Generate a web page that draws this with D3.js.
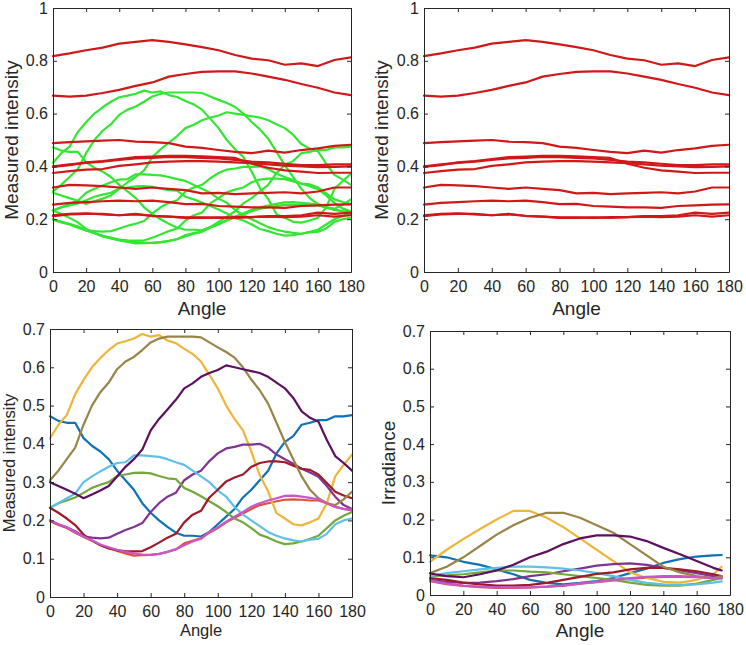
<!DOCTYPE html>
<html><head><meta charset="utf-8">
<script src="https://cdn.jsdelivr.net/npm/d3@7"></script>
<style>
body{margin:0;background:#fff;}
svg{display:block;font-family:"Liberation Sans",Arial,sans-serif;}
</style></head>
<body><svg id="chart" width="746" height="645"></svg>
<script>
// ---------- DATA ----------
const angles5 = [0,5,10,15,20,25,30,35,40,45,50,55,60,65,70,75,80,85,90,95,100,105,110,115,120,125,130,135,140,145,150,155,160,165,170,175,180];
const angles10 = [0,10,20,30,40,50,60,70,80,90,100,110,120,130,140,150,160,170,180];
const anglesIrr = [0,10,20,30,40,50,60,70,80,90,100,110,120,130,140,150,160,170,175];
const xTicks = [0,20,40,60,80,100,120,140,160,180];
const yTicksTop = [0,0.2,0.4,0.6,0.8,1];
const yTicksBottom = [0,0.1,0.2,0.3,0.4,0.5,0.6,0.7];

// Measured intensity, 10 sources (bottom-left; green lines top-left)
const mBlue      = [0.472,0.46,0.455,0.455,0.415,0.395,0.38,0.36,0.33,0.305,0.28,0.245,0.22,0.2,0.183,0.168,0.16,0.16,0.158,0.17,0.19,0.21,0.23,0.26,0.28,0.305,0.33,0.375,0.405,0.42,0.45,0.455,0.462,0.462,0.472,0.472,0.475];
const mOrange    = [0.198,0.188,0.18,0.168,0.157,0.147,0.136,0.128,0.12,0.114,0.108,0.109,0.11,0.113,0.118,0.124,0.14,0.147,0.153,0.168,0.18,0.195,0.207,0.218,0.23,0.24,0.245,0.25,0.254,0.255,0.254,0.252,0.252,0.245,0.236,0.23,0.226];
const mYellow    = [0.414,0.45,0.475,0.53,0.567,0.6,0.624,0.645,0.662,0.668,0.675,0.687,0.68,0.684,0.67,0.663,0.648,0.635,0.615,0.58,0.545,0.5,0.465,0.435,0.38,0.318,0.276,0.219,0.205,0.19,0.187,0.195,0.205,0.245,0.315,0.345,0.372];
const mPurple    = [0.2,0.19,0.182,0.172,0.158,0.155,0.153,0.155,0.165,0.175,0.183,0.193,0.222,0.245,0.262,0.272,0.305,0.32,0.33,0.355,0.375,0.388,0.392,0.398,0.398,0.4,0.39,0.372,0.36,0.348,0.335,0.325,0.314,0.29,0.262,0.24,0.23];
const mGreen     = [0.233,0.245,0.252,0.26,0.272,0.285,0.293,0.3,0.316,0.32,0.324,0.325,0.323,0.316,0.31,0.308,0.285,0.275,0.263,0.25,0.237,0.222,0.205,0.195,0.18,0.163,0.155,0.145,0.138,0.14,0.145,0.152,0.16,0.18,0.2,0.212,0.222];
const mLightBlue = [0.233,0.245,0.258,0.27,0.3,0.315,0.328,0.34,0.35,0.352,0.37,0.37,0.368,0.366,0.36,0.352,0.345,0.33,0.315,0.3,0.278,0.262,0.235,0.215,0.2,0.185,0.17,0.16,0.153,0.148,0.145,0.15,0.152,0.165,0.19,0.2,0.205];
const mDarkRed   = [0.233,0.22,0.205,0.188,0.163,0.148,0.135,0.127,0.122,0.12,0.119,0.12,0.13,0.142,0.155,0.165,0.195,0.215,0.225,0.26,0.28,0.302,0.312,0.32,0.34,0.35,0.354,0.354,0.352,0.343,0.335,0.332,0.32,0.298,0.275,0.265,0.258];
const mOlive     = [0.305,0.33,0.36,0.39,0.45,0.5,0.535,0.56,0.595,0.615,0.627,0.645,0.665,0.675,0.68,0.68,0.68,0.68,0.678,0.665,0.652,0.64,0.625,0.6,0.568,0.54,0.505,0.455,0.405,0.36,0.315,0.28,0.258,0.245,0.24,0.255,0.275];
const mDarkPurple= [0.3,0.29,0.28,0.27,0.258,0.268,0.278,0.29,0.315,0.34,0.36,0.385,0.435,0.465,0.49,0.515,0.545,0.558,0.575,0.585,0.593,0.605,0.6,0.595,0.59,0.585,0.575,0.56,0.545,0.52,0.485,0.468,0.458,0.41,0.368,0.35,0.33];
const mMagenta   = [0.2,0.19,0.182,0.17,0.158,0.148,0.137,0.13,0.123,0.118,0.114,0.111,0.11,0.112,0.118,0.125,0.135,0.145,0.152,0.17,0.182,0.197,0.21,0.222,0.236,0.245,0.252,0.258,0.264,0.265,0.262,0.259,0.255,0.245,0.235,0.23,0.228];

// Reference (red) intensities, 10 lines
const r1  = [0.818,0.828,0.84,0.85,0.865,0.872,0.878,0.872,0.862,0.852,0.84,0.822,0.808,0.802,0.785,0.79,0.78,0.803,0.813];
const r2  = [0.668,0.664,0.668,0.678,0.69,0.705,0.718,0.74,0.75,0.758,0.76,0.76,0.752,0.74,0.728,0.712,0.698,0.68,0.67];
const r3  = [0.488,0.492,0.495,0.498,0.5,0.494,0.492,0.488,0.475,0.47,0.462,0.455,0.45,0.46,0.452,0.462,0.468,0.478,0.482];
const r4  = [0.398,0.405,0.415,0.42,0.428,0.435,0.437,0.44,0.44,0.438,0.435,0.432,0.41,0.395,0.385,0.38,0.375,0.376,0.376];
const r5  = [0.4,0.408,0.413,0.418,0.425,0.43,0.432,0.436,0.435,0.432,0.43,0.425,0.418,0.415,0.41,0.405,0.405,0.408,0.408];
const r6  = [0.375,0.382,0.388,0.39,0.402,0.408,0.415,0.418,0.42,0.42,0.418,0.415,0.412,0.408,0.403,0.4,0.397,0.398,0.4];
const r7  = [0.32,0.33,0.328,0.325,0.32,0.315,0.32,0.315,0.31,0.298,0.3,0.295,0.298,0.3,0.302,0.298,0.305,0.32,0.32];
const r8  = [0.255,0.262,0.265,0.268,0.27,0.268,0.27,0.265,0.257,0.258,0.25,0.248,0.245,0.245,0.243,0.25,0.252,0.255,0.256];
const r9  = [0.215,0.22,0.222,0.218,0.215,0.22,0.212,0.21,0.207,0.207,0.205,0.208,0.208,0.212,0.212,0.215,0.225,0.22,0.225];
const r10 = [0.212,0.218,0.22,0.22,0.215,0.218,0.213,0.21,0.205,0.205,0.207,0.205,0.208,0.21,0.208,0.21,0.215,0.21,0.215];

// Irradiance (bottom-right)
const iBlue      = [0.105,0.1,0.088,0.08,0.068,0.055,0.04,0.032,0.028,0.032,0.037,0.045,0.058,0.07,0.085,0.095,0.102,0.105,0.106];
const iOrange    = [0.037,0.029,0.024,0.021,0.019,0.019,0.02,0.022,0.025,0.03,0.034,0.039,0.043,0.046,0.048,0.048,0.047,0.045,0.044];
const iYellow    = [0.088,0.12,0.148,0.175,0.2,0.223,0.223,0.205,0.18,0.15,0.12,0.09,0.06,0.045,0.035,0.033,0.04,0.055,0.075];
const iPurple    = [0.04,0.035,0.032,0.033,0.037,0.042,0.05,0.055,0.063,0.07,0.078,0.082,0.084,0.08,0.072,0.065,0.058,0.05,0.045];
const iGreen     = [0.05,0.052,0.055,0.06,0.065,0.065,0.062,0.06,0.055,0.05,0.045,0.04,0.033,0.027,0.025,0.025,0.03,0.04,0.045];
const iLightBlue = [0.05,0.058,0.063,0.068,0.072,0.075,0.075,0.073,0.07,0.065,0.058,0.05,0.04,0.032,0.028,0.027,0.028,0.033,0.036];
const iDarkRed   = [0.045,0.04,0.033,0.028,0.025,0.025,0.027,0.032,0.04,0.048,0.056,0.06,0.068,0.072,0.072,0.068,0.063,0.055,0.05];
const iOlive     = [0.058,0.075,0.1,0.13,0.16,0.185,0.205,0.218,0.218,0.205,0.185,0.165,0.135,0.105,0.075,0.06,0.05,0.045,0.05];
const iDarkPurple= [0.057,0.05,0.047,0.055,0.065,0.08,0.1,0.115,0.135,0.15,0.158,0.158,0.155,0.143,0.125,0.108,0.09,0.072,0.065];
const iMagenta   = [0.038,0.03,0.025,0.022,0.02,0.02,0.02,0.022,0.025,0.03,0.035,0.04,0.045,0.048,0.05,0.05,0.048,0.045,0.045];

const seriesColors = ["#0f72b4","#e0503a","#edb53a","#7e3591","#73a83a","#5ec0e8","#9e1a2a","#998448","#5d0f60","#c857c8"];
const redColor = "#d01818";
const greenColor = "#33e633";

const measured = [mBlue,mOrange,mYellow,mPurple,mGreen,mLightBlue,mDarkRed,mOlive,mDarkPurple,mMagenta];
const irradiance = [iBlue,iOrange,iYellow,iPurple,iGreen,iLightBlue,iDarkRed,iOlive,iDarkPurple,iMagenta];
const reds = [r1,r2,r3,r4,r5,r6,r7,r8,r9,r10];

// ---------- DRAW ----------
const svg = d3.select("#chart");
const fmt = d3.format("~g");
const TXT = "#262626";

function panel(cfg, groups) {
  const x = d3.scaleLinear().domain([0,180]).range([cfg.left, cfg.right]);
  const y = d3.scaleLinear().domain([0,cfg.yMax]).range([cfg.bottom, cfg.top]);
  const g = svg.append("g");
  const line = d3.line().x(d => x(d[0])).y(d => y(d[1]));
  groups.forEach(gr => {
    gr.series.forEach((s, i) => {
      g.append("path")
        .attr("d", line(gr.angles.map((a, k) => [a, s[k]])))
        .attr("fill","none")
        .attr("stroke", gr.colors ? gr.colors[i] : gr.color)
        .attr("stroke-width", gr.width)
        .attr("stroke-linejoin","round")
        .attr("stroke-linecap","round");
    });
  });
  const axStyle = sel => {
    sel.select(".domain").attr("stroke", TXT).attr("stroke-width",1);
    sel.selectAll(".tick line").attr("stroke", TXT);
    sel.selectAll("text").attr("fill", TXT).style("font-size","16px")
       .style("font-family",'"Liberation Sans",Arial,sans-serif');
  };
  g.append("g").attr("transform",`translate(0,${cfg.bottom})`)
    .call(d3.axisBottom(x).tickValues(xTicks).tickFormat(fmt).tickSize(-4).tickSizeOuter(0).tickPadding(9))
    .call(axStyle);
  g.append("g").attr("transform",`translate(0,${cfg.top})`)
    .call(d3.axisTop(x).tickValues(xTicks).tickFormat("").tickSize(-4).tickSizeOuter(0))
    .call(axStyle);
  g.append("g").attr("transform",`translate(${cfg.left},0)`)
    .call(d3.axisLeft(y).tickValues(cfg.yTicks).tickFormat(fmt).tickSize(-4).tickSizeOuter(0).tickPadding(5))
    .call(axStyle);
  g.append("g").attr("transform",`translate(${cfg.right},0)`)
    .call(d3.axisRight(y).tickValues(cfg.yTicks).tickFormat("").tickSize(-4).tickSizeOuter(0))
    .call(axStyle);
  g.selectAll("text").attr("font-family", null);
  // axis titles
  g.append("text").attr("x",(cfg.left+cfg.right)/2).attr("y",cfg.xLabelY)
    .attr("text-anchor","middle").attr("fill",TXT).style("font-size",cfg.labelSize+"px").text("Angle");
  g.append("text").attr("transform",`translate(${cfg.yLabelX},${(cfg.top+cfg.bottom)/2}) rotate(-90)`)
    .attr("text-anchor","middle").attr("fill",TXT).style("font-size",cfg.labelSize+"px").text(cfg.yLabel);
}

panel({left:53,right:351,top:8,bottom:272,yMax:1,yTicks:yTicksTop,yLabel:"Measured intensity",labelSize:19,xLabelY:315,yLabelX:18},
  [{angles:angles5,series:measured,color:greenColor,width:2.2},
   {angles:angles10,series:reds,color:redColor,width:2.2}]);
panel({left:424,right:729,top:8,bottom:272,yMax:1,yTicks:yTicksTop,yLabel:"Measured intensity",labelSize:19,xLabelY:315,yLabelX:388},
  [{angles:angles10,series:reds,color:redColor,width:2.2}]);
panel({left:50,right:352,top:329,bottom:597,yMax:0.7,yTicks:yTicksBottom,yLabel:"Measured intensity",labelSize:16.5,xLabelY:636,yLabelX:15},
  [{angles:angles5,series:measured,colors:seriesColors,width:2.2}]);
panel({left:430,right:730,top:331,bottom:595,yMax:0.7,yTicks:yTicksBottom,yLabel:"Irradiance",labelSize:19,xLabelY:637,yLabelX:395},
  [{angles:anglesIrr,series:irradiance,colors:seriesColors,width:2.2}]);
</script>
</body></html>
